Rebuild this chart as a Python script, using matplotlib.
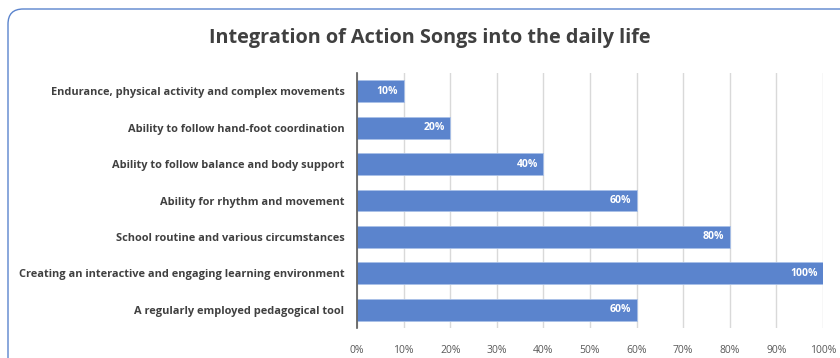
import matplotlib.pyplot as plt
from matplotlib.patches import FancyBboxPatch
from matplotlib.ticker import PercentFormatter

categories = [
    "Endurance, physical activity and complex movements",
    "Ability to follow hand-foot coordination",
    "Ability to follow balance and body support",
    "Ability for rhythm and movement",
    "School routine and various circumstances",
    "Creating an interactive and engaging learning environment",
    "A regularly employed pedagogical tool",
]
values = [10, 20, 40, 60, 80, 100, 60]
ticks = [0, 10, 20, 30, 40, 50, 60, 70, 80, 90, 100]

plt.rcParams['font.family'] = ['Open Sans', 'DejaVu Sans']

fig = plt.figure(figsize=(8.4, 3.58), dpi=100)

# rounded frame around the chart (runs off the right and bottom edges)
frame = FancyBboxPatch((8 / 840, -0.05), 1.1, 1.0 - 9 / 358 + 0.05,
                       boxstyle="round,pad=0,rounding_size=0.018",
                       transform=fig.transFigure, fill=False,
                       edgecolor='#5B84CD', linewidth=1.0, mutation_aspect=840 / 358)
fig.patches.append(frame)

ax = fig.add_axes([357 / 840, 1 - 328 / 358, (823 - 357) / 840, (328 - 73) / 358])

y = range(len(categories))
bars = ax.barh(y, values, height=0.6, color='#5B84CD', edgecolor='#A9C0E8', linewidth=0.6, zorder=3)
ax.set_ylim(len(categories) - 0.5, -0.5)
ax.set_xlim(0, 100)
ax.set_xticks(ticks)
ax.xaxis.set_major_formatter(PercentFormatter(decimals=0))
ax.set_yticks(list(y))
ax.set_yticklabels(categories, fontsize=7.9, fontweight='bold', color='#404040')
ax.tick_params(axis='x', labelsize=7.5, colors='#595959', length=0, pad=12)
ax.tick_params(axis='y', length=0, pad=9)
ax.grid(axis='x', color='#D9D9D9', linewidth=1, zorder=0)
for s in ['top', 'right', 'bottom']:
    ax.spines[s].set_visible(False)
ax.spines['left'].set_color('#595959')
ax.spines['left'].set_linewidth(1.2)
ax.spines['left'].set_zorder(4)

for bar, v in zip(bars, values):
    ax.text(v - 1.2, bar.get_y() + bar.get_height() / 2, f"{v}%",
            ha='right', va='center', color='white', fontsize=7.5, fontweight='bold', zorder=5)

fig.text(430 / 840, 1 - 38 / 358, "Integration of Action Songs into the daily life",
         ha='center', va='center', fontsize=14.3, fontweight='bold', color='#404040')

fig.savefig('out.png', dpi=100)
